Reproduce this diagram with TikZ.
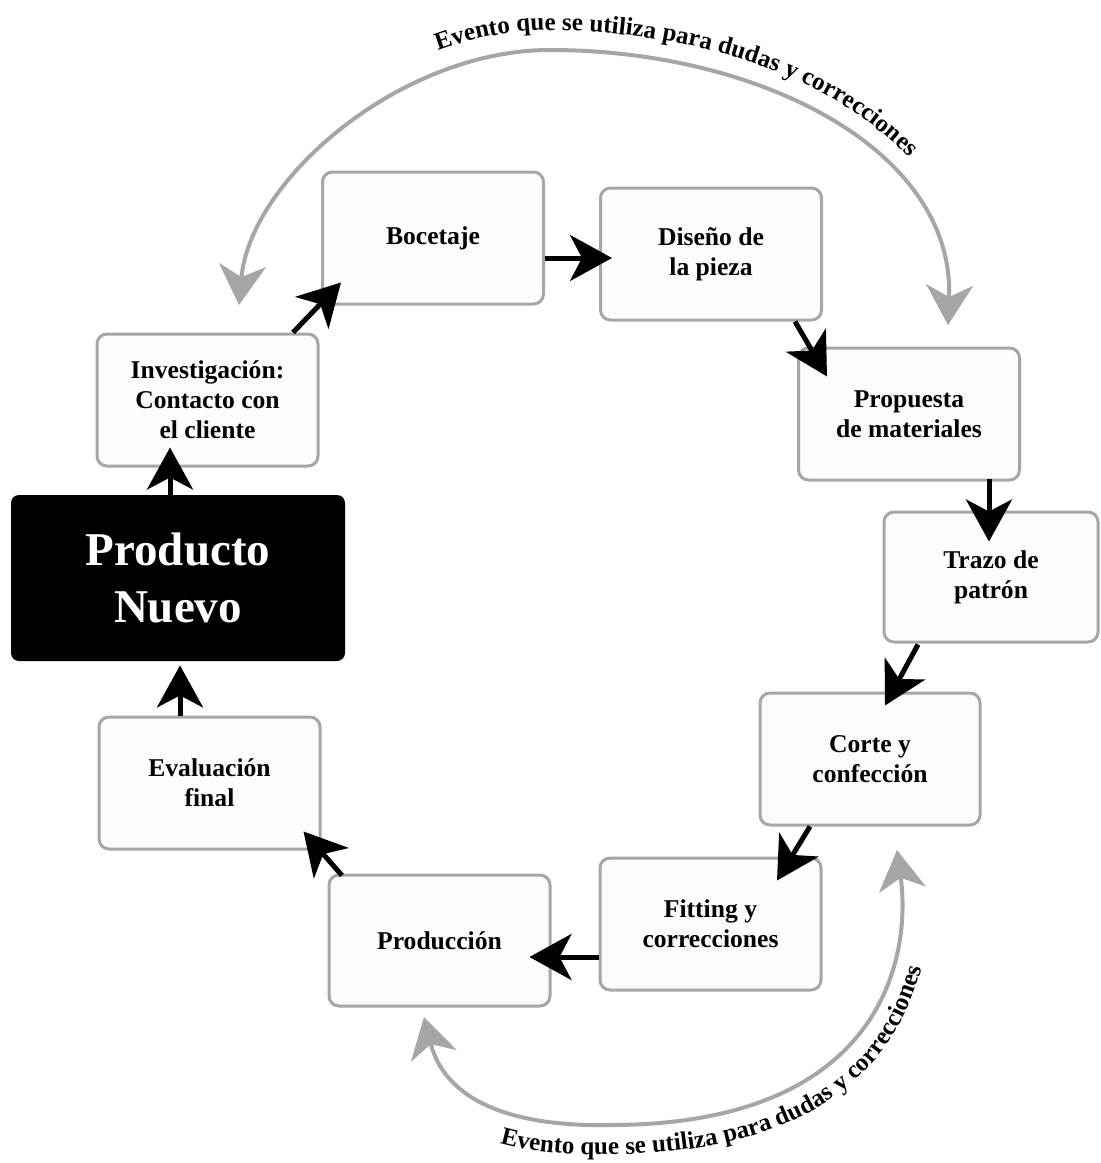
\documentclass[tikz,border=0pt]{standalone}
\usepackage{fontspec}
\setmainfont{Liberation Serif}
\usetikzlibrary{arrows.meta,calc,decorations.text}

\definecolor{boxgray}{HTML}{A6A6A6}
\definecolor{boxfill}{HTML}{FCFCFC}
\definecolor{loopgray}{HTML}{A6A6A6}

\tikzset{
  stage/.style={draw=boxgray, fill=boxfill, line width=1.5pt, rounded corners=5pt,
    minimum width=110.5pt, minimum height=66pt, inner sep=0pt, align=center,
    font=\bfseries\fontsize{12.8}{15}\selectfont},
  newprod/.style={fill=black, text=white, rounded corners=4pt, minimum width=167pt,
    minimum height=83pt, inner sep=0pt, align=center,
    font=\bfseries\fontsize{23.5}{28.5}\selectfont},
  flow/.style={line width=2.5pt, -{Stealth[length=21pt,width=23pt,inset=6pt]}},
  backloop/.style={draw=loopgray, line width=2pt,
    {Stealth[length=20pt,width=23.5pt,inset=6pt]}-{Stealth[length=20pt,width=23.5pt,inset=6pt]}},
  looptext/.style={decorate, decoration={text along path, text align=left,
    text={|\bfseries\fontsize{12.5}{14}\selectfont|#1}}}
}

\begin{document}
\begin{tikzpicture}[x=0.5pt, y=-0.5pt]

\useasboundingbox (0,0) rectangle (1100,1163);
\fill[white] (0,0) rectangle (1100,1163);

% Stages
\node[stage] (inv) at (207.5,400) {Investigación:\\Contacto con\\el cliente};
\node[stage] (boc) at (433,238) {Bocetaje};
\node[stage] (dis) at (711,254) {Diseño de\\la pieza};
\node[stage] (prop) at (909,414) {Propuesta\\de materiales};
\node[stage, minimum width=107pt, minimum height=65pt] (traz) at (991,577) {Trazo de\\patrón};
\node[stage, minimum width=110pt] (corte) at (870,759) {Corte y\\confección};
\node[stage] (fit) at (710.5,924) {Fitting y\\correcciones};
\node[stage, minimum height=65.5pt] (prodn) at (439.5,940.5) {Producción};
\node[stage] (eval) at (209.5,783) {Evaluación\\final};
\node[newprod] (nuevo) at (178,578) {Producto\\Nuevo};

% Flow
\draw[flow] ($(inv.north)+(85.5,0)$) -- ($(boc.south west)+(20,-23)$);
\draw[flow] ($(boc.east)+(0,20)$) -- ($(dis.west)+(13,4)$);
\draw[flow] ($(dis.south)+(84,0)$) -- ($(prop.north west)+(30,30)$);
\draw[flow] ($(prop.south)+(80,-3)$) -- ($(traz.north)+(-2,31)$);
\draw[flow] ($(traz.south)+(-73,1)$) -- ($(corte.north)+(15,14)$);
\draw[flow] ($(corte.south)+(-60,0)$) -- ($(fit.north)+(66.5,24)$);
\draw[flow] ($(fit.west)+(0,33)$) -- ($(prodn.east)+(-22,16.5)$);
\draw[flow] ($(prodn.north)+(-97.5,2)$) -- ($(eval.south east)+(-18,-19)$);
\draw[flow] ($(eval.north)+(-29.5,0)$) -- ($(nuevo.south)+(2,4)$);
\draw[flow] ($(nuevo.north)+(-8,0)$) -- ($(inv.south)+(-37.5,-20)$);

% Loops
\coordinate (topL) at (239,305);
\coordinate (topM) at (550,50);
\coordinate (topR) at (948,325);
\draw[backloop] (topL) .. controls (250,180) and (400,50) .. (topM)
  .. controls (760,50) and (955,150) .. (topR);

\coordinate (botL) at (424,1017);
\coordinate (botM) at (610,1125);
\coordinate (botR) at (897,850);
\draw[backloop] (botL) .. controls (445,1100) and (510,1127) .. (botM)
  .. controls (880,1125) and (912,960) .. (botR);

% Loop labels
\path[looptext={Evento que se utiliza para dudas y correcciones}]
  (438,50.7) .. controls (473.1,37.8) and (510,30.4) .. (546.9,30.4)
  .. controls (771.6,30.4) and (980.3,137.4) .. (972.8,324.6);
\path[looptext={Evento que se utiliza para dudas y correcciones}]
  (500,1143.5) .. controls (529.6,1152) and (566,1155.2) .. (605.2,1154.4)
  .. controls (907.6,1154.4) and (943.4,969.6) .. (926.6,846.4);

\end{tikzpicture}
\end{document}
